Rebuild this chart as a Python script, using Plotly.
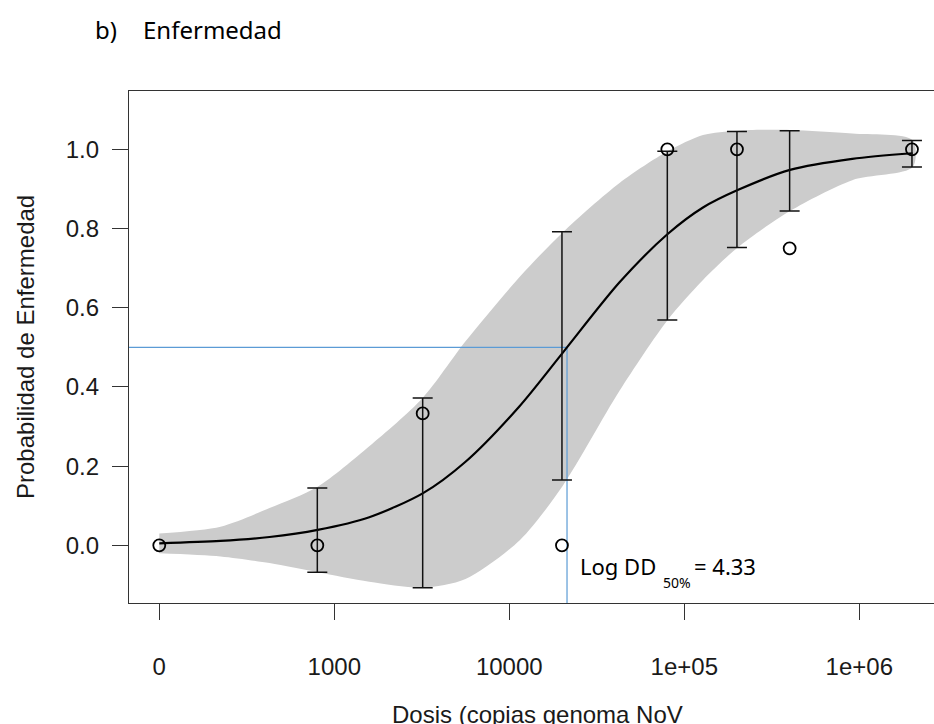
import numpy as np
import plotly.graph_objects as go

# ---------------- data ----------------
# doses of the observed groups (control "0" drawn at the first tick position, 100)
obs_dose = [100, 800, 3200, 20000, 80000, 200000, 400000, 2000000]
obs_prob = [0.0, 0.0, 0.333, 0.0, 1.0, 1.0, 0.75, 1.0]

# confidence interval bars
ci_dose = [800, 3200, 20000, 80000, 200000, 400000, 2000000]
ci_lower = [-0.068, -0.107, 0.165, 0.569, 0.752, 0.844, 0.955]
ci_upper = [0.145, 0.372, 0.792, 0.995, 1.045, 1.047, 1.022]

# fitted curve and its confidence band (log10 dose positions)
grid_log10 = [2.0, 2.35, 2.63, 2.905, 3.2, 3.505, 3.75, 4.06, 4.305, 4.63,
              4.905, 5.107, 5.305, 5.604, 5.96, 6.305]
fit_prob = [0.005, 0.011, 0.021, 0.039, 0.071, 0.131, 0.211, 0.352, 0.486, 0.664,
            0.786, 0.853, 0.897, 0.948, 0.976, 0.990]
band_upper = [0.030, 0.047, 0.094, 0.148, 0.250, 0.372, 0.515, 0.678, 0.790, 0.915,
              0.995, 1.036, 1.047, 1.049, 1.040, 1.023]
band_lower = [-0.020, -0.028, -0.045, -0.068, -0.092, -0.107, -0.085, 0.013, 0.150, 0.390,
              0.569, 0.670, 0.752, 0.844, 0.922, 0.955]

log_dd50 = 4.33
p50 = 0.5

x_tickvals = [100, 1000, 10000, 100000, 1000000]
x_ticktext = ["0", "1000", "10000", "1e+05", "1e+06"]
y_tickvals = [0.0, 0.2, 0.4, 0.6, 0.8, 1.0]
y_ticktext = ["0.0", "0.2", "0.4", "0.6", "0.8", "1.0"]

# ---------------- figure ----------------
X_RANGE = [1.827, 6.427]      # log10 units
Y_RANGE = [-0.1457, 1.1472]

grid_dose = [10 ** g for g in grid_log10]

fig = go.Figure()

# confidence band
fig.add_trace(go.Scatter(
    x=grid_dose + grid_dose[::-1],
    y=band_upper + band_lower[::-1],
    fill="toself", fillcolor="#cccccc",
    line=dict(width=0, shape="spline", smoothing=0.8, color="#cccccc"),
    mode="lines", hoverinfo="skip"))

# blue reference lines at DD50
dd50 = 10 ** log_dd50
fig.add_trace(go.Scatter(
    x=[10 ** X_RANGE[0], dd50], y=[p50, p50], mode="lines",
    line=dict(color="#5b9bd5", width=1.2), hoverinfo="skip"))
fig.add_trace(go.Scatter(
    x=[dd50, dd50], y=[p50, Y_RANGE[0]], mode="lines",
    line=dict(color="#5b9bd5", width=1.2), hoverinfo="skip"))

# fitted curve
fig.add_trace(go.Scatter(
    x=grid_dose, y=fit_prob, mode="lines",
    line=dict(color="black", width=2.2, shape="spline", smoothing=0.8)))

# error bars
fig.add_trace(go.Scatter(
    x=ci_dose, y=ci_lower, mode="markers",
    marker=dict(size=1, opacity=0),
    error_y=dict(type="data", symmetric=False,
                 array=[u - l for u, l in zip(ci_upper, ci_lower)],
                 arrayminus=[0] * len(ci_lower),
                 color="#111111", thickness=1.5, width=10)))

# observed points
fig.add_trace(go.Scatter(
    x=obs_dose, y=obs_prob, mode="markers",
    marker=dict(symbol="circle-open", size=12, color="black",
                line=dict(width=1.8, color="black"))))

axis_font = dict(family="Liberation Sans, Arial, sans-serif", size=24, color="#1a1a1a")

fig.update_xaxes(type="log", range=X_RANGE, tickvals=x_tickvals, ticktext=x_ticktext,
                 showline=True, linecolor="#333333", linewidth=1.4, mirror=True,
                 ticks="outside", ticklen=16, tickwidth=1.4, tickcolor="#333333",
                 tickfont=axis_font, showgrid=False, zeroline=False,
                 ticklabelstandoff=26)
fig.update_yaxes(range=Y_RANGE, tickvals=y_tickvals, ticktext=y_ticktext,
                 showline=True, linecolor="#333333", linewidth=1.4, mirror=False,
                 ticks="outside", ticklen=16, tickwidth=1.4, tickcolor="#333333",
                 tickfont=axis_font, showgrid=False, zeroline=False,
                 ticklabelstandoff=8)

L, T, W, H = 129, 91, 805, 512


def px(xp):
    return (xp - L) / W


def py(yp):
    return (T + H - yp) / H


doc_font = "Noto Sans, Open Sans, sans-serif"
annotations = [
    dict(text="b)", x=px(93), y=py(29), xanchor="left", yanchor="middle",
         font=dict(family=doc_font, size=24, color="black")),
    dict(text="Enfermedad", x=px(141), y=py(29), xanchor="left", yanchor="middle",
         font=dict(family=doc_font, size=24, color="black")),
    dict(text="Log DD", x=px(578), y=py(566), xanchor="left", yanchor="middle",
         font=dict(family=doc_font, size=22, color="black")),
    dict(text="50%", x=px(661), y=py(582), xanchor="left", yanchor="middle",
         font=dict(family=doc_font, size=14, color="black")),
    dict(text="= 4.33", x=px(692), y=py(566), xanchor="left", yanchor="middle",
         font=dict(family=doc_font, size=22, color="black")),
    dict(text="Probabilidad de Enfermedad", x=px(25), y=py(347), textangle=-90,
         xanchor="center", yanchor="middle", font=axis_font),
    dict(text="Dosis (copias genoma NoV", x=px(537), y=py(714),
         xanchor="center", yanchor="middle", font=axis_font),
]
for a in annotations:
    a.update(xref="paper", yref="paper", showarrow=False)

fig.update_layout(width=934, height=724,
                  margin=dict(l=L, r=0, t=T, b=724 - T - H),
                  plot_bgcolor="white", paper_bgcolor="white",
                  showlegend=False, annotations=annotations)

fig.write_html("out.html")
